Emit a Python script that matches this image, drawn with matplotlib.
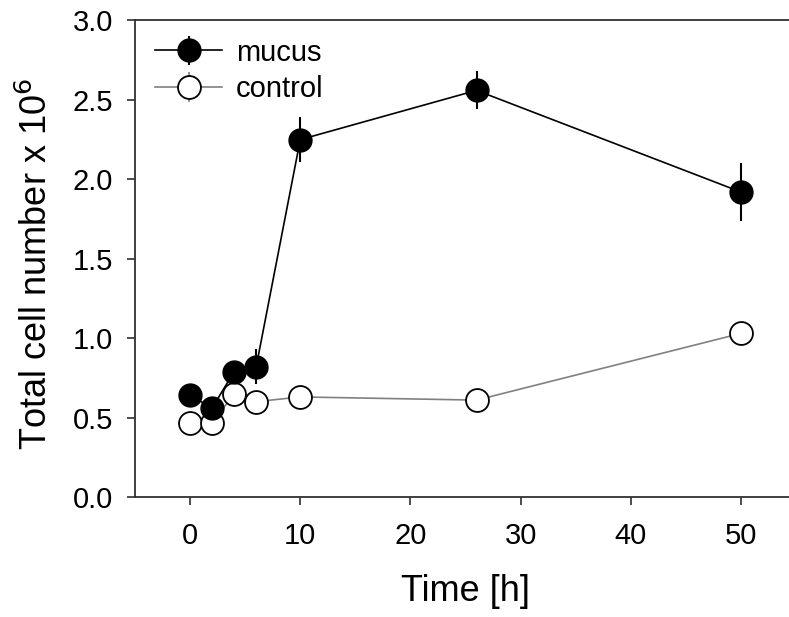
import matplotlib
matplotlib.use("Agg")
import matplotlib.pyplot as plt

plt.rcParams['font.family'] = ['Liberation Sans', 'DejaVu Sans']

time_h = [0, 2, 4, 6, 10, 26, 50]
mucus = [0.64, 0.56, 0.79, 0.82, 2.25, 2.56, 1.92]
mucus_err = [0.03, 0.07, 0.06, 0.11, 0.14, 0.12, 0.18]
control = [0.466, 0.466, 0.65, 0.60, 0.63, 0.61, 1.03]
control_err = [0.02, 0.02, 0.02, 0.02, 0.02, 0.02, 0.02]

xticks = [0, 10, 20, 30, 40, 50]
yticks = [0.0, 0.5, 1.0, 1.5, 2.0, 2.5, 3.0]

fig = plt.figure(figsize=(7.89, 6.17), dpi=100)
ax = fig.add_axes([0.1711, 0.1945, 0.8378, 0.7723])

ax.errorbar(time_h, control, yerr=control_err, color='#808080', ecolor='#808080',
            elinewidth=1.2, lw=1.2, marker='o', ms=16.5, mfc='white', mec='black',
            mew=1.3, capsize=0, label='control', zorder=2)
ax.errorbar(time_h, mucus, yerr=mucus_err, color='black', ecolor='black',
            elinewidth=1.5, lw=1.2, marker='o', ms=16.5, mfc='black', mec='black',
            mew=1.0, capsize=0, label='mucus', zorder=3)

ax.set_xlim(-5, 55)
ax.set_ylim(0, 3.0)
ax.set_xticks(xticks)
ax.set_yticks(yticks)
ax.set_xticklabels([str(t) for t in xticks])
ax.set_yticklabels([f"{t:.1f}" for t in yticks])
ax.tick_params(direction='out', length=6, width=1.2, labelsize=21, colors='#303030',
               labelcolor='black')
ax.tick_params(axis='x', pad=12)
ax.tick_params(axis='y', pad=10)
for s in ['left', 'bottom', 'top']:
    ax.spines[s].set_linewidth(1.3)
    ax.spines[s].set_color('#303030')
ax.spines['right'].set_visible(False)

ax.set_xlabel('Time [h]', fontsize=26, labelpad=17)
ax.set_ylabel('Total cell number x 10$^6$', fontsize=26)
ax.yaxis.set_label_coords(-0.121, 0.49)

handles, labels = ax.get_legend_handles_labels()
order = [labels.index('mucus'), labels.index('control')]
leg = ax.legend([handles[i] for i in order], [labels[i] for i in order],
                loc='upper left', frameon=False, fontsize=21, handlelength=2.3,
                borderaxespad=0.3, handletextpad=0.45, labelspacing=0.3,
                bbox_to_anchor=(0.0, 1.005))

fig.savefig('out.png', dpi=100)
